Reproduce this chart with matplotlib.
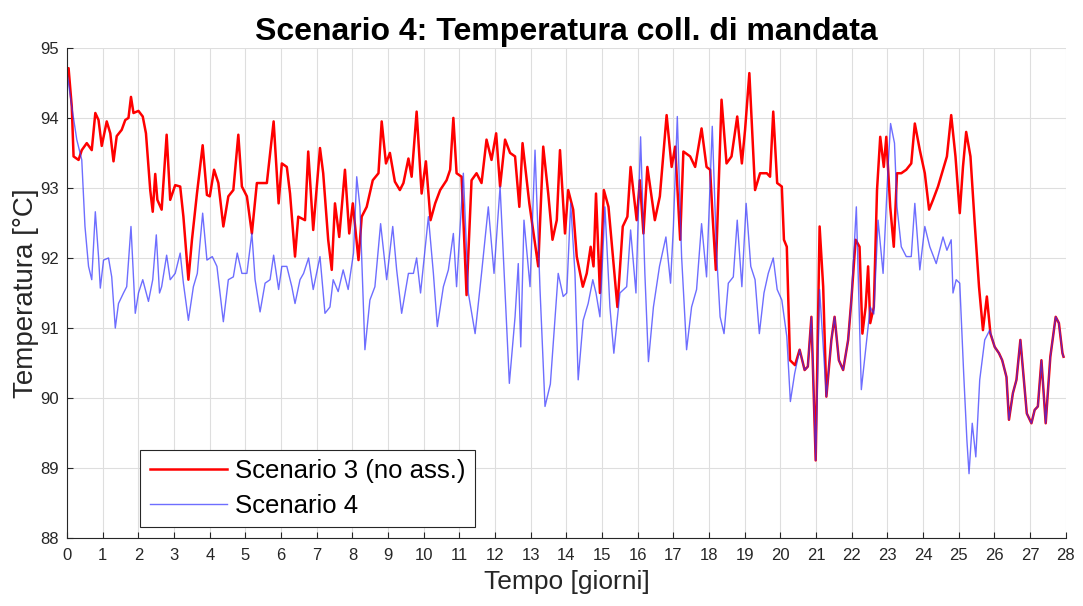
import numpy as np
import matplotlib
matplotlib.use("Agg")
from matplotlib import pyplot as plt

plt.rcParams['font.family'] = ['Liberation Sans', 'DejaVu Sans']

# Scenario 3 (no ass.)
t3 = [0.0, 0.04, 0.13, 0.18, 0.32, 0.41, 0.55, 0.69, 0.79, 0.88, 0.97, 1.11, 1.21, 1.30, 1.39,
      1.53, 1.63, 1.72, 1.79, 1.86, 2.0, 2.12, 2.21, 2.33, 2.4, 2.47, 2.53, 2.65, 2.79, 2.89,
      3.03, 3.17, 3.26, 3.4, 3.5, 3.64, 3.8, 3.92, 4.0, 4.12, 4.24, 4.38, 4.52, 4.66, 4.8, 4.9,
      5.04, 5.18, 5.32, 5.6, 5.79, 5.93, 6.02, 6.16, 6.25, 6.39, 6.48, 6.67, 6.76, 6.9, 7.09,
      7.18, 7.32, 7.42, 7.51, 7.63, 7.79, 7.91, 8.01, 8.17, 8.26, 8.4, 8.57, 8.73, 8.82, 8.94,
      9.05, 9.19, 9.33, 9.43, 9.57, 9.66, 9.8, 9.94, 10.06, 10.19, 10.32, 10.46, 10.64, 10.74,
      10.83, 10.92, 11.06, 11.2, 11.34, 11.48, 11.62, 11.76, 11.9, 12.03, 12.14, 12.28, 12.42,
      12.56, 12.68, 12.77, 12.96, 13.21, 13.35, 13.49, 13.61, 13.73, 13.82, 13.96, 14.05,
      14.19, 14.29, 14.46, 14.57, 14.68, 14.76, 14.83, 14.94, 15.05, 15.18, 15.27, 15.43,
      15.58, 15.71, 15.8, 15.97, 16.06, 16.16, 16.27, 16.48, 16.62, 16.81, 16.95, 17.05,
      17.19, 17.28, 17.47, 17.61, 17.79, 17.93, 18.03, 18.1, 18.19, 18.35, 18.49, 18.63,
      18.79, 18.92, 19.01, 19.13, 19.29, 19.43, 19.62, 19.71, 19.8, 19.91, 20.04, 20.1,
      20.18, 20.27, 20.41, 20.54, 20.68, 20.77, 20.87, 20.99, 21.1, 21.2, 21.29, 21.43,
      21.52, 21.64, 21.76, 21.9, 21.99, 22.11, 22.22, 22.3, 22.39, 22.46, 22.52, 22.62,
      22.71, 22.8, 22.9, 22.97, 23.08, 23.18, 23.27, 23.39, 23.53, 23.67, 23.77, 23.91,
      24.05, 24.17, 24.28, 24.42, 24.56, 24.67, 24.79, 24.91, 25.03, 25.12, 25.21, 25.33,
      25.45, 25.57, 25.68, 25.79, 25.89, 26.01, 26.13, 26.22, 26.34, 26.41, 26.52, 26.62,
      26.73, 26.85, 26.91, 27.04, 27.13, 27.22, 27.32, 27.44, 27.57, 27.72, 27.81, 27.91, 27.94]
temp3 = [94.7, 94.71, 94.16, 93.45, 93.4, 93.54, 93.64, 93.54, 94.07, 93.97, 93.6, 93.95, 93.78,
         93.38, 93.74, 93.83, 93.97, 94.0, 94.3, 94.07, 94.1, 94.02, 93.78, 92.97, 92.66, 93.2,
         92.83, 92.69, 93.76, 92.83, 93.04, 93.02, 92.59, 91.69, 92.26, 92.92, 93.61, 92.9,
         92.88, 93.26, 93.07, 92.45, 92.88, 92.97, 93.76, 93.02, 92.88, 92.35, 93.07, 93.07,
         93.95, 92.78, 93.35, 93.3, 92.92, 92.02, 92.59, 92.54, 93.52, 92.4, 93.57, 93.21,
         92.26, 91.83, 92.78, 92.3, 93.26, 92.35, 92.78, 91.97, 92.59, 92.73, 93.11, 93.21,
         93.95, 93.35, 93.5, 93.09, 92.97, 93.07, 93.42, 93.16, 94.09, 92.92, 93.38, 92.54,
         92.78, 92.97, 93.11, 93.26, 94.0, 93.21, 93.16, 91.47, 93.11, 93.21, 93.07, 93.69,
         93.4, 93.78, 93.02, 93.69, 93.5, 93.45, 92.73, 93.64, 92.78, 91.88, 93.59, 92.92,
         92.26, 92.54, 93.54, 92.35, 92.97, 92.69, 92.02, 91.59, 91.78, 92.16, 91.88, 92.92,
         91.5, 92.97, 92.73, 92.21, 91.3, 92.45, 92.59, 93.3, 92.54, 93.11, 92.35, 93.3, 92.54,
         92.88, 94.04, 93.3, 93.59, 92.26, 93.52, 93.45, 93.3, 93.85, 93.3, 93.26, 92.59, 91.83,
         94.26, 93.35, 93.45, 94.02, 93.35, 93.83, 94.64, 92.97, 93.21, 93.21, 93.16, 94.09,
         93.07, 93.02, 92.26, 92.16, 90.54, 90.47, 90.69, 90.4, 90.45, 91.16, 89.11, 92.45,
         91.59, 90.02, 90.83, 91.16, 90.54, 90.4, 90.83, 91.4, 92.26, 92.16, 90.92, 91.3, 91.88,
         91.07, 91.3, 92.97, 93.73, 93.3, 93.73, 92.73, 92.16, 93.21, 93.21, 93.26, 93.35,
         93.92, 93.54, 93.21, 92.69, 92.83, 93.02, 93.26, 93.45, 94.04, 93.45, 92.64, 93.3,
         93.8, 93.45, 92.49, 91.59, 90.97, 91.45, 90.92, 90.73, 90.64, 90.54, 90.3, 89.69,
         90.07, 90.26, 90.83, 90.12, 89.78, 89.64, 89.83, 89.88, 90.54, 89.64, 90.59, 91.16,
         91.07, 90.64, 90.59]

# Scenario 4
t4 = [0.0, 0.13, 0.27, 0.41, 0.5, 0.6, 0.69, 0.79, 0.88, 0.93, 1.02, 1.16, 1.25, 1.35, 1.44,
      1.58, 1.67, 1.79, 1.91, 2.0, 2.12, 2.28, 2.4, 2.5, 2.59, 2.65, 2.79, 2.89, 3.03, 3.17,
      3.26, 3.4, 3.54, 3.65, 3.8, 3.92, 4.07, 4.2, 4.38, 4.52, 4.66, 4.77, 4.9, 5.04, 5.18,
      5.27, 5.41, 5.55, 5.69, 5.79, 5.93, 6.02, 6.16, 6.3, 6.39, 6.53, 6.63, 6.77, 6.9, 7.09,
      7.23, 7.37, 7.46, 7.6, 7.74, 7.88, 8.03, 8.12, 8.21, 8.35, 8.49, 8.63, 8.79, 8.96, 9.13,
      9.24, 9.38, 9.57, 9.71, 9.8, 9.91, 10.13, 10.27, 10.38, 10.55, 10.69, 10.83, 10.92,
      11.11, 11.25, 11.44, 11.62, 11.81, 11.97, 12.14, 12.4, 12.56, 12.65, 12.72, 12.81,
      12.98, 13.12, 13.26, 13.4, 13.55, 13.77, 13.91, 14.01, 14.12, 14.24, 14.33, 14.47,
      14.61, 14.74, 14.83, 14.94, 15.08, 15.22, 15.33, 15.5, 15.69, 15.8, 15.95, 16.08, 16.2,
      16.3, 16.44, 16.61, 16.79, 16.92, 17.0, 17.11, 17.23, 17.37, 17.51, 17.65, 17.79,
      17.93, 18.09, 18.21, 18.31, 18.42, 18.54, 18.68, 18.79, 18.92, 19.04, 19.17, 19.29,
      19.41, 19.54, 19.66, 19.8, 19.91, 20.04, 20.18, 20.28, 20.4, 20.54, 20.68, 20.77,
      20.87, 20.99, 21.1, 21.29, 21.43, 21.52, 21.64, 21.76, 21.9, 21.99, 22.13, 22.27,
      22.39, 22.52, 22.62, 22.74, 22.88, 23.02, 23.09, 23.2, 23.27, 23.39, 23.53, 23.67,
      23.77, 23.91, 24.05, 24.19, 24.37, 24.56, 24.67, 24.79, 24.84, 24.93, 25.03, 25.14,
      25.23, 25.29, 25.38, 25.48, 25.59, 25.73, 25.87, 26.01, 26.13, 26.22, 26.34, 26.41,
      26.52, 26.62, 26.73, 26.85, 26.91, 27.04, 27.13, 27.22, 27.32, 27.44, 27.57, 27.72,
      27.81, 27.91, 27.94]
temp4 = [94.64, 94.16, 93.69, 93.4, 92.45, 91.88, 91.69, 92.66, 92.02, 91.57, 91.97, 92.0,
         91.73, 91.0, 91.35, 91.5, 91.59, 92.45, 91.21, 91.5, 91.69, 91.38, 91.69, 92.33, 91.5,
         91.59, 92.04, 91.69, 91.78, 92.07, 91.64, 91.11, 91.59, 91.78, 92.64, 91.97, 92.02,
         91.88, 91.09, 91.69, 91.73, 92.07, 91.78, 91.78, 92.35, 91.69, 91.23, 91.64, 91.69,
         92.04, 91.55, 91.88, 91.88, 91.59, 91.35, 91.69, 91.78, 92.0, 91.55, 92.02, 91.21,
         91.3, 91.69, 91.52, 91.83, 91.55, 92.07, 93.16, 92.73, 90.69, 91.4, 91.59, 92.49,
         91.69, 92.45, 91.83, 91.21, 91.78, 91.78, 92.0, 91.5, 92.59, 91.78, 91.02, 91.59,
         91.83, 92.35, 91.59, 93.21, 91.5, 90.92, 91.78, 92.73, 91.78, 93.02, 90.21, 91.16,
         91.92, 90.73, 92.54, 91.59, 93.54, 91.55, 89.88, 90.2, 91.78, 91.45, 91.5, 92.78,
         91.78, 90.26, 91.11, 91.35, 91.69, 91.5, 91.16, 92.73, 91.3, 90.64, 91.5, 91.59, 92.4,
         91.5, 93.73, 91.78, 90.52, 91.3, 91.88, 92.3, 91.64, 92.45, 94.02, 92.02, 90.69, 91.3,
         91.55, 92.49, 91.73, 93.88, 92.07, 91.16, 90.92, 91.64, 91.73, 92.54, 91.59, 92.78,
         91.88, 91.69, 90.92, 91.5, 91.78, 92.0, 91.55, 91.4, 90.88, 89.95, 90.35, 90.69, 90.4,
         90.45, 91.16, 89.11, 91.55, 90.02, 90.83, 91.16, 90.54, 90.4, 90.83, 91.4, 92.73,
         90.12, 90.69, 91.3, 91.2, 92.54, 91.78, 93.3, 93.92, 93.64, 92.73, 92.16, 92.02, 92.02,
         92.78, 91.83, 92.45, 92.16, 91.92, 92.3, 92.11, 92.26, 91.5, 91.69, 91.64, 90.35,
         89.4, 88.92, 89.64, 89.16, 90.26, 90.83, 90.97, 90.73, 90.64, 90.54, 90.3, 89.69,
         90.07, 90.26, 90.83, 90.12, 89.78, 89.64, 89.83, 89.88, 90.54, 89.64, 90.59, 91.16,
         91.07, 90.64, 90.59]

xticks = np.arange(0, 29, 1)
yticks = np.arange(88, 96, 1)
dark = '#262626'

fig = plt.figure(figsize=(10.83, 6.06), dpi=100)
ax = fig.add_axes([0.062, 0.112, 0.922, 0.809])

ax.plot(t3, temp3, color='#ff0000', lw=1.8, label='Scenario 3 (no ass.)')
ax.plot(t4, temp4, color='#3030ff', lw=1.0, alpha=0.7, label='Scenario 4')

ax.set_xlim(0, 28)
ax.set_ylim(88, 95)
ax.set_xticks(xticks)
ax.set_yticks(yticks)
ax.tick_params(direction='in', length=4, width=0.8, colors=dark, labelsize=12,
               top=False, right=False)
ax.tick_params(axis='x', pad=7)
ax.tick_params(axis='y', pad=6)
ax.grid(True, color='#dedede', lw=0.8)
ax.set_axisbelow(True)
for s in ['top', 'right']:
    ax.spines[s].set_visible(False)
for s in ['left', 'bottom']:
    ax.spines[s].set_color(dark)
    ax.spines[s].set_linewidth(0.8)

ax.set_title('Scenario 4: Temperatura coll. di mandata', fontsize=23, fontweight='bold',
             pad=6)
ax.set_xlabel('Tempo [giorni]', fontsize=19, color=dark, labelpad=5)
ax.set_ylabel('Temperatura [°C]', fontsize=20, color=dark, labelpad=1)

leg = ax.legend(loc='lower left', bbox_to_anchor=(0.073, 0.022), fontsize=18.5,
                fancybox=False, framealpha=1, edgecolor=dark, borderaxespad=0,
                handlelength=3.0, borderpad=0.38, labelspacing=0.4, handletextpad=0.3)
leg.get_frame().set_linewidth(0.8)

fig.savefig('out.png', dpi=100)
